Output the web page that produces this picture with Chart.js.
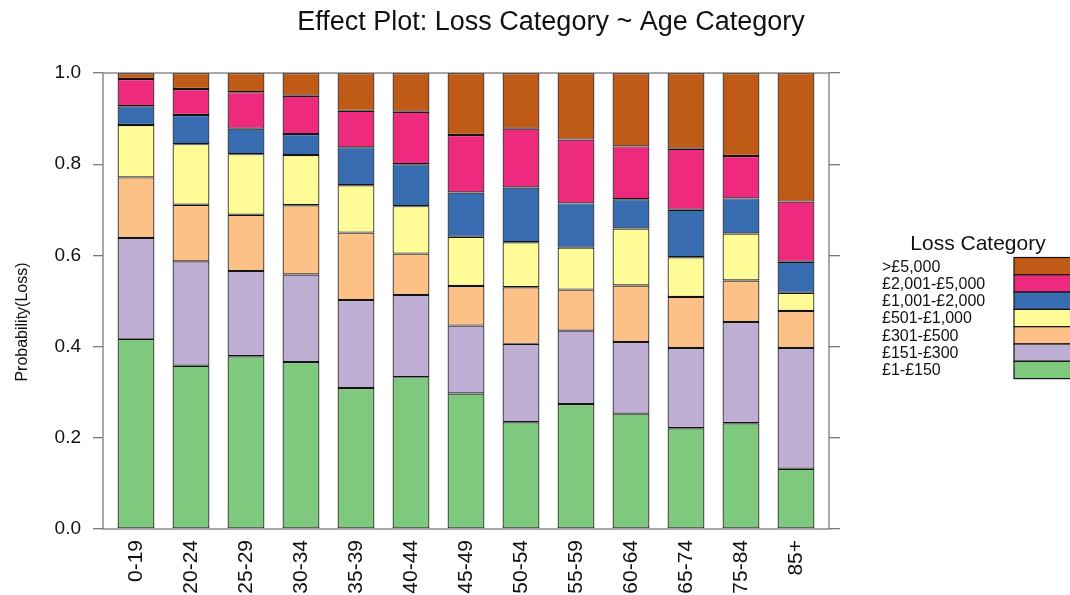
<!DOCTYPE html>
<html>
<head>
<meta charset="utf-8">
<title>Effect Plot: Loss Category ~ Age Category</title>
<script src="https://cdn.jsdelivr.net/npm/chart.js@4.4.1/dist/chart.umd.min.js"></script>
<style>
  html, body { margin: 0; padding: 0; background: #ffffff; }
  #wrap { width: 1070px; height: 595px; position: relative; }
</style>
</head>
<body>
<div id="wrap"><canvas id="chart" width="1070" height="595"></canvas></div>
<script>
// Age bands along the x axis
const ageCategories = ['0-19', '20-24', '25-29', '30-34', '35-39', '40-44', '45-49',
                       '50-54', '55-59', '60-64', '65-74', '75-84', '85+'];

// Loss bands, stacked from the bottom up
const lossCategories = ['£1-£150', '£151-£300', '£301-£500', '£501-£1,000',
                        '£1,001-£2,000', '£2,001-£5,000', '>£5,000'];
const lossColors = ['#7FC97F', '#BEAED4', '#FDC086', '#FFFB97', '#386CB0', '#EE2A7F', '#BF5B17'];

// Fitted probability of each loss band per age band
const loss1to150     = [0.417, 0.358, 0.379, 0.366, 0.309, 0.333, 0.297, 0.234, 0.274, 0.253, 0.221, 0.232, 0.132];
const loss151to300   = [0.221, 0.229, 0.187, 0.192, 0.193, 0.180, 0.149, 0.172, 0.161, 0.157, 0.176, 0.222, 0.265];
const loss301to500   = [0.133, 0.124, 0.123, 0.152, 0.148, 0.091, 0.087, 0.124, 0.090, 0.124, 0.112, 0.091, 0.081];
const loss501to1000  = [0.115, 0.133, 0.133, 0.110, 0.104, 0.104, 0.108, 0.099, 0.092, 0.125, 0.087, 0.103, 0.040];
const loss1001to2000 = [0.041, 0.064, 0.056, 0.046, 0.083, 0.092, 0.097, 0.120, 0.097, 0.064, 0.104, 0.077, 0.068];
const loss2001to5000 = [0.060, 0.057, 0.080, 0.084, 0.080, 0.115, 0.126, 0.129, 0.140, 0.116, 0.134, 0.093, 0.132];
const lossOver5000   = [0.013, 0.035, 0.042, 0.050, 0.083, 0.085, 0.136, 0.122, 0.146, 0.161, 0.166, 0.182, 0.282];

// Y axis tick values
const yTickValues = [0, 0.2, 0.4, 0.6, 0.8, 1.0];

const lossSeries = [loss1to150, loss151to300, loss301to500, loss501to1000,
                    loss1001to2000, loss2001to5000, lossOver5000];

const chartTitle = 'Effect Plot: Loss Category ~ Age Category';
const yTitle = 'Probability(Loss)';
const legendTitle = 'Loss Category';

const FONT = '"Liberation Sans", Arial, Helvetica, sans-serif';
const TEXT = '#111111';
const FRAME = '#7a7a7a';
const EDGE = '#141414';

Chart.defaults.font.family = FONT;

// Panel box, title, y-axis title and the key on the right
const decorations = {
  id: 'decorations',
  afterDraw(chart) {
    const { ctx, chartArea: a } = chart;
    ctx.save();
    ctx.strokeStyle = FRAME;
    ctx.lineWidth = 1.3;
    ctx.strokeRect(a.left, a.top, a.right - a.left, a.bottom - a.top);

    ctx.fillStyle = TEXT;
    ctx.textAlign = 'center';
    ctx.textBaseline = 'middle';
    ctx.font = '27px ' + FONT;
    ctx.fillText(chartTitle, 551, 23);

    ctx.save();
    ctx.translate(23, 322);
    ctx.rotate(-Math.PI / 2);
    ctx.font = '16px ' + FONT;
    ctx.fillText(yTitle, 0, 0);
    ctx.restore();

    // key: labels on the left, colour boxes on the right, top band first
    ctx.font = '21px ' + FONT;
    ctx.fillText(legendTitle, 978, 244);
    const sets = chart.data.datasets.slice().reverse();
    const rowH = 17.3, top = 257.5, boxX = 1014;
    ctx.font = '16px ' + FONT;
    ctx.textAlign = 'left';
    sets.forEach((ds, i) => {
      const y = top + i * rowH;
      ctx.fillStyle = ds.backgroundColor;
      ctx.fillRect(boxX, y, 80, rowH);
      ctx.strokeStyle = EDGE;
      ctx.lineWidth = 1.2;
      ctx.strokeRect(boxX, y, 80, rowH);
      ctx.fillStyle = TEXT;
      ctx.fillText(ds.label, 882, y + rowH / 2 + 1);
    });
    ctx.restore();
  }
};

const datasets = lossCategories.map((name, k) => ({
  label: name,
  data: lossSeries[k].map((v, i) => ({ x: i, y: v })),
  backgroundColor: lossColors[k],
  borderColor: EDGE,
  borderWidth: 1.2,
  borderSkipped: false,
  inflateAmount: 0,
  barPercentage: 0.67,
  categoryPercentage: 1.0
}));

new Chart(document.getElementById('chart'), {
  type: 'bar',
  data: { datasets },
  options: {
    responsive: false,
    animation: false,
    devicePixelRatio: 1,
    layout: { padding: { top: 73, right: 230, bottom: 0, left: 0 } },
    plugins: {
      legend: { display: false },
      tooltip: { enabled: false },
      title: { display: false }
    },
    scales: {
      x: {
        type: 'linear',
        stacked: true,
        min: -0.6,
        max: 12.6,
        offset: false,
        afterBuildTicks: s => { s.ticks = ageCategories.map((_, i) => ({ value: i })); },
        afterFit: s => { s.height = 66; },
        ticks: {
          autoSkip: false,
          minRotation: 90,
          maxRotation: 90,
          padding: 11,
          color: TEXT,
          font: { size: 21 },
          callback: v => ageCategories[v] ?? ''
        },
        grid: { display: false, drawTicks: false },
        border: { display: false }
      },
      y: {
        stacked: true,
        position: 'left',
        min: 0,
        max: 1,
        afterBuildTicks: s => { s.ticks = yTickValues.map(v => ({ value: v })); },
        afterFit: s => { s.width = 103; },
        ticks: {
          padding: 12,
          color: TEXT,
          font: { size: 19 },
          callback: v => Number(v).toFixed(1)
        },
        grid: { drawOnChartArea: false, drawTicks: true, tickLength: 10, color: FRAME, lineWidth: 1.3 },
        border: { display: false }
      },
      y2: {
        position: 'right',
        min: 0,
        max: 1,
        afterBuildTicks: s => { s.ticks = yTickValues.map(v => ({ value: v })); },
        afterFit: s => { s.width = 11; },
        ticks: { display: false },
        grid: { drawOnChartArea: false, drawTicks: true, tickLength: 11, color: FRAME, lineWidth: 1.3 },
        border: { display: false }
      }
    }
  },
  plugins: [decorations]
});
</script>
</body>
</html>
